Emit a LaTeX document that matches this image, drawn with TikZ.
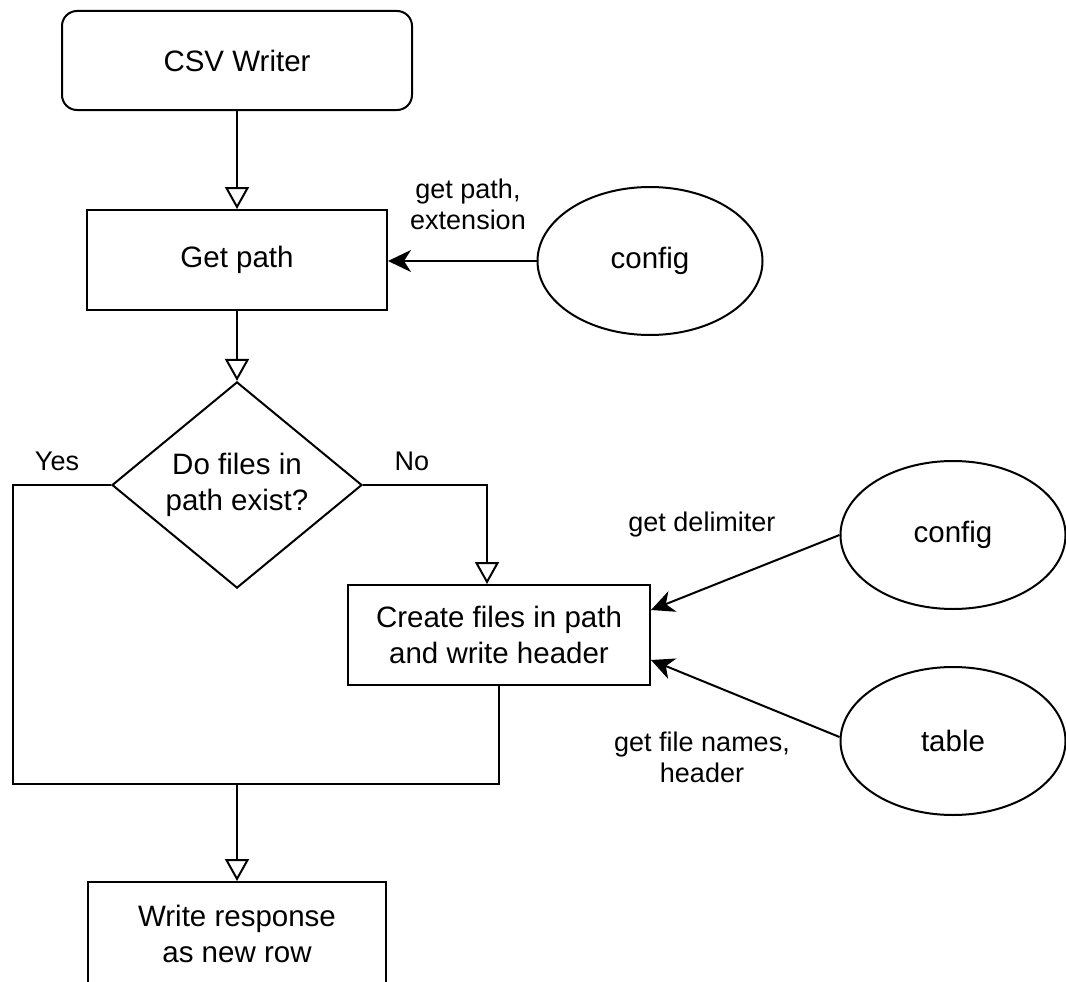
\documentclass[tikz,border=0pt]{standalone}
\usepackage{fontspec}
\setmainfont{Liberation Sans}
\usetikzlibrary{arrows.meta,shapes.geometric,calc}
\begin{document}
\begin{tikzpicture}[x=1pt,y=-1pt,
  line width=2pt,
  stepbox/.style={draw, inner sep=0pt, align=center,
    font=\fontsize{29.5}{36}\selectfont},
  decision/.style={draw, diamond, inner sep=0pt, align=center,
    minimum width=250pt, minimum height=200pt,
    font=\fontsize{29.5}{36}\selectfont},
  source/.style={draw, ellipse, inner sep=0pt,
    minimum width=225pt, minimum height=148pt,
    font=\fontsize{29.5}{36}\selectfont},
  note/.style={inner sep=0pt, align=center,
    font=\fontsize{27}{31}\selectfont},
  flow/.style={-{Triangle[open,length=22pt,width=24pt]}},
  feed/.style={-{Stealth[length=23pt,width=22pt,inset=7pt]}}
]
\useasboundingbox (0,0) rectangle (1066,982);

% main flow
\node[stepbox, rounded corners=15pt, minimum width=350pt, minimum height=99pt]
  (writer) at (237,60.5) {CSV Writer};
\node[stepbox, minimum width=300pt, minimum height=100pt]
  (getpath) at (237,260) {Get path};
\node[decision] (exists) at (237,485) {Do files in\\path exist?};
\node[stepbox, minimum width=302pt, minimum height=100pt]
  (create) at (499,635) {Create files in path\\and write header};
\node[stepbox, minimum width=298pt, minimum height=104pt]
  (write) at (237,934) {Write response\\as new row};

% data sources
\node[source] (cfgpath) at (650,261) {config};
\node[source] (cfgdelim) at (953,535) {config};
\node[source] (table) at (953,741) {table};

% labels
\node[note] (lblpath) at (468,204) {get path,\\extension};
\node[note] (lblyes) at (57,461) {Yes};
\node[note] (lblno) at (412,461) {No};
\node[note] (lbldelim) at (702,525) {get delimiter};
\node[note] (lblnames) at (702,757) {get file names,\\header};

% junction where both branches meet
\coordinate (join) at (237,784);

% connectors
\draw[flow] (writer) -- (getpath);
\draw[flow] (getpath) -- (exists);
\draw[feed] (cfgpath) -- (getpath.east |- cfgpath);
\draw[flow] (exists.east) -| (create.north -| 487,0);
\draw (exists.west) -- (13,485) -- (13,784) -- (create.south |- join) -- (create.south);
\draw[flow] (join) -- (write);
\draw[feed] (cfgdelim.west) -- ($(create.east)+(0,-25)$);
\draw[feed] ($(table.west)+(0,-4)$) -- ($(create.east)+(0,25)$);
\end{tikzpicture}
\end{document}
